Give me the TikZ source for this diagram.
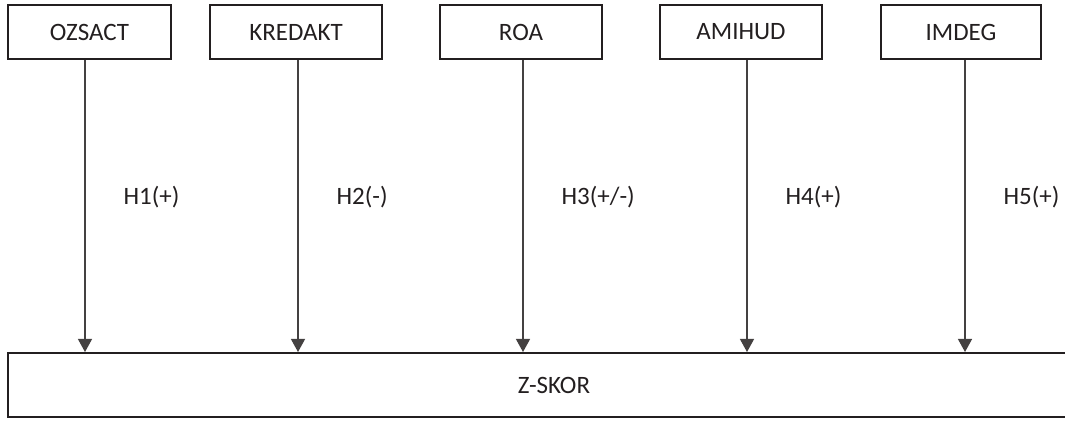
\documentclass[tikz,border=0pt]{standalone}
\usepackage{fontspec}
\setmainfont{Carlito}
\usepackage{tikz}
\usetikzlibrary{arrows.meta,positioning}
\definecolor{ink}{RGB}{35,31,32}

\begin{document}
\begin{tikzpicture}[x=0.5pt, y=-0.5pt, font=\fontsize{12.5}{15}\selectfont, text=ink,
  box/.style={draw=ink, line width=1pt, align=center, inner sep=0pt, minimum height=27pt, minimum width=#1},
  box/.default=81pt,
  arr/.style={-{Triangle[width=7pt,length=6.5pt]}, draw=ink!85, line width=0.6pt},
  hyp/.style={right=19pt, inner sep=0pt}]
\useasboundingbox (0,0) rectangle (1065,421);
\node[box=81.5pt] (ozsact) at (89.5,32) {OZSACT};
\node[box=86pt] (kredakt) at (296,32) {KREDAKT};
\node[box=81pt] (roa) at (521,32) {ROA};
\node[box=81pt] (amihud) at (741,32) {AMIHUD};
\node[box=80pt] (imdeg) at (961,32) {IMDEG};
\node[box=546pt, minimum height=32pt] (zskor) at (554,385) {Z-SKOR};
% hypotheses, lines a little off the box centres as in the source
\draw[arr] ([xshift=-2.25pt]ozsact.south) -- node[hyp, pos=0.47]{H1(+)} ([xshift=-2.25pt]ozsact.south |- zskor.north);
\draw[arr] ([xshift=1pt]kredakt.south) -- node[hyp, pos=0.47]{H2(-)} ([xshift=1pt]kredakt.south |- zskor.north);
\draw[arr] ([xshift=1pt]roa.south) -- node[hyp, pos=0.47]{H3(+/-)} ([xshift=1pt]roa.south |- zskor.north);
\draw[arr] ([xshift=3pt]amihud.south) -- node[hyp, pos=0.47]{H4(+)} ([xshift=3pt]amihud.south |- zskor.north);
\draw[arr] ([xshift=2pt]imdeg.south) -- node[hyp, pos=0.47]{H5(+)} ([xshift=2pt]imdeg.south |- zskor.north);
\end{tikzpicture}
\end{document}
